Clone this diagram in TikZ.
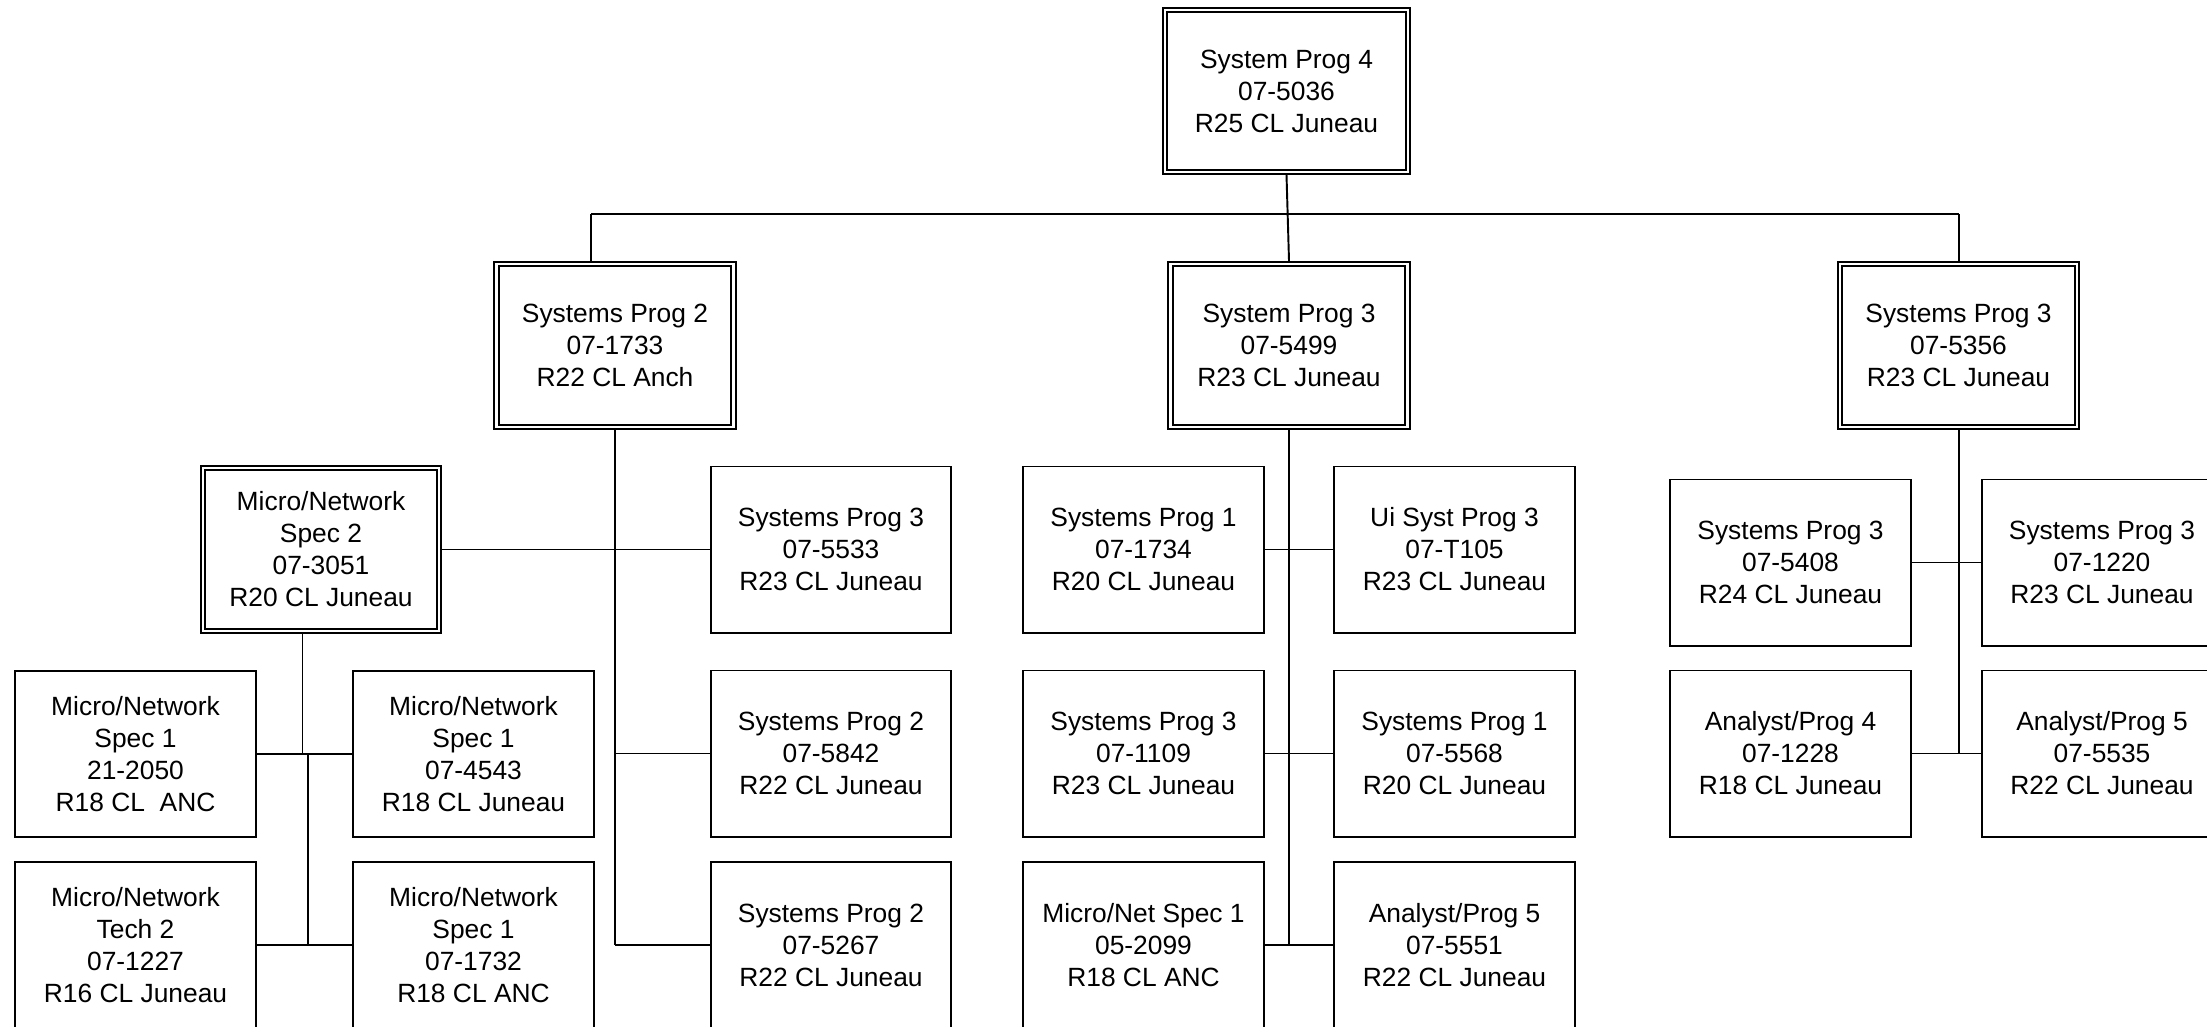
\documentclass[tikz,border=0pt]{standalone}
\usepackage{fontspec}
\setmainfont{Liberation Sans}
\begin{document}
\begin{tikzpicture}[x=0.01cm,y=-0.01cm,
    posbox/.style={draw, line width=0.55pt, minimum width=2.4cm, minimum height=1.66cm,
      inner sep=0pt, align=center, font=\fontsize{7.5}{9.1}\selectfont},
    headbox/.style={posbox, double, double distance=0.7pt, outer sep=0.85pt,
      minimum width=2.37cm, minimum height=1.63cm},
    link/.style={line width=0.55pt}]
                        \clip (0,0) rectangle (2207,1026);
                        {

                        % Marking top position
                        \node [headbox, minimum width=2.43cm, minimum height=1.62cm] (sp4) at (1286.5,91) {System Prog 4\\07-5036\\R25 CL Juneau};%

                        % Marking second row positions
                        \node [headbox] (sp2) at (615,345.5) {Systems Prog 2\\07-1733\\R22 CL Anch};%
                        \node [headbox] (sp3m) at (1289,345.5) {System Prog 3\\07-5499\\R23 CL Juneau};%
                        \node [headbox] (sp3r) at (1958.5,345.5) {Systems Prog 3\\07-5356\\R23 CL Juneau};%

                        % Drawing bus under top position
                        \coordinate (busl) at (591,214);%
                        \coordinate (busr) at (1958.5,214);%
                        \draw [link] (sp4.south) -- (sp3m.north);%
                        \draw [link] (busl) -- (busr);%
                        \draw [link] (busl) -- (busl |- sp2.north);%
                        \draw [link] (busr) -- (sp3r.north);%

                        % Marking positions under Systems Prog 2
                        \node [headbox, minimum width=2.36cm] (mns2) at (321,549.5) {Micro/Network\\Spec 2\\07-3051\\R20 CL Juneau};%
                        \node [posbox] (sp5533) at (831,549.5) {Systems Prog 3\\07-5533\\R23 CL Juneau};%
                        \node [posbox] (sp5842) at (831,753.5) {Systems Prog 2\\07-5842\\R22 CL Juneau};%
                        \node [posbox] (sp5267) at (831,945) {Systems Prog 2\\07-5267\\R22 CL Juneau};%

                        % Drawing lines under Systems Prog 2
                        \draw [link] (sp2.south) -- (sp2.south |- sp5267.west);%
                        \draw [link] (mns2.east) -- (sp5533.west);%
                        \draw [link] (sp2.south |- sp5842.west) -- (sp5842.west);%
                        \draw [link] (sp2.south |- sp5267.west) -- (sp5267.west);%

                        % Marking positions under Micro/Network Spec 2
                        \node [posbox] (mns1a) at (135.5,754) {Micro/Network\\Spec 1\\21-2050\\R18 CL\ \ ANC};%
                        \node [posbox] (mns1b) at (473.5,754) {Micro/Network\\Spec 1\\07-4543\\R18 CL Juneau};%
                        \node [posbox] (mnt2) at (135.5,945) {Micro/Network\\Tech 2\\07-1227\\R16 CL Juneau};%
                        \node [posbox] (mns1c) at (473.5,945) {Micro/Network\\Spec 1\\07-1732\\R18 CL ANC};%

                        % Drawing lines under Micro/Network Spec 2
                        \coordinate (mnj1) at (302.5,754);%
                        \coordinate (mnj2) at (308,754);%
                        \draw [link] (mns2.south -| mnj1) -- (mnj1);%
                        \draw [link] (mnj2) -- (mnj2 |- mnt2.east);%
                        \draw [link] (mns1a.east) -- (mns1b.west);%
                        \draw [link] (mnt2.east) -- (mns1c.west);%

                        % Marking positions under System Prog 3
                        \node [posbox] (sp1734) at (1143.5,549.5) {Systems Prog 1\\07-1734\\R20 CL Juneau};%
                        \node [posbox] (uisp3) at (1454.5,549.5) {Ui Syst Prog 3\\07-T105\\R23 CL Juneau};%
                        \node [posbox] (sp1109) at (1143.5,753.5) {Systems Prog 3\\07-1109\\R23 CL Juneau};%
                        \node [posbox] (sp5568) at (1454.5,753.5) {Systems Prog 1\\07-5568\\R20 CL Juneau};%
                        \node [posbox] (mn2099) at (1143.5,945) {Micro/Net Spec 1\\05-2099\\R18 CL ANC};%
                        \node [posbox] (ap5551) at (1454.5,945) {Analyst/Prog 5\\07-5551\\R22 CL Juneau};%

                        % Drawing lines under System Prog 3
                        \draw [link] (sp3m.south) -- (sp3m.south |- mn2099.east);%
                        \draw [link] (sp1734.east) -- (uisp3.west);%
                        \draw [link] (sp1109.east) -- (sp5568.west);%
                        \draw [link] (mn2099.east) -- (ap5551.west);%

                        % Marking positions under Systems Prog 3 (right)
                        \node [posbox] (sp5408) at (1790.5,562.5) {Systems Prog 3\\07-5408\\R24 CL Juneau};%
                        \node [posbox] (sp1220) at (2102,562.5) {Systems Prog 3\\07-1220\\R23 CL Juneau};%
                        \node [posbox] (ap1228) at (1790.5,753.5) {Analyst/Prog 4\\07-1228\\R18 CL Juneau};%
                        \node [posbox] (ap5535) at (2102,753.5) {Analyst/Prog 5\\07-5535\\R22 CL Juneau};%

                        % Drawing lines under Systems Prog 3 (right)
                        \draw [link] (sp3r.south) -- (sp3r.south |- ap1228.east);%
                        \draw [link] (sp5408.east) -- (sp1220.west);%
                        \draw [link] (ap1228.east) -- (ap5535.west);%
                        }
\end{tikzpicture}
\end{document}
